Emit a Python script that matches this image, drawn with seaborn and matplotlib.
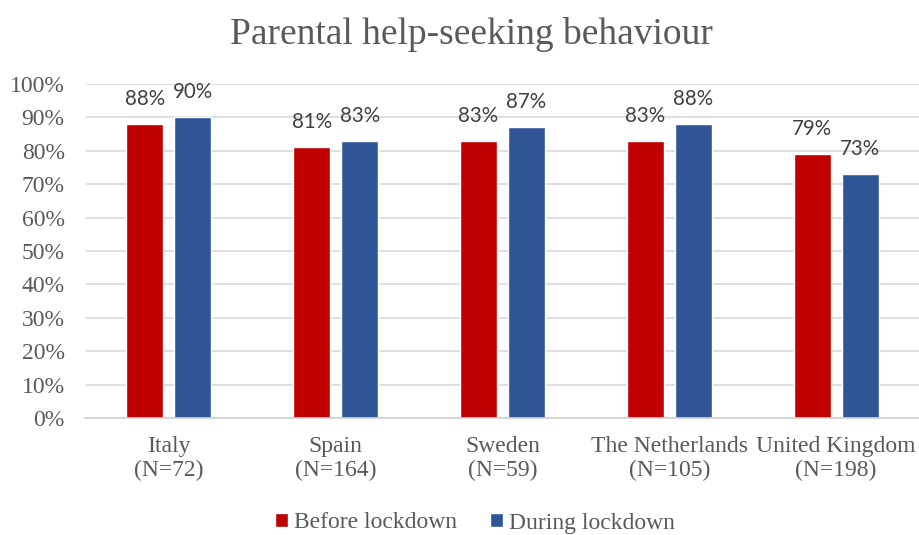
import pandas as pd
import seaborn as sns
import matplotlib.pyplot as plt
from matplotlib.patches import Patch

countries = ['Italy\n(N=72)', 'Spain\n(N=164)', 'Sweden\n(N=59)',
             'The Netherlands\n(N=105)', 'United Kingdom\n(N=198)']
before = [0.88, 0.81, 0.83, 0.83, 0.79]
during = [0.90, 0.83, 0.87, 0.88, 0.73]
periods = ['Before lockdown', 'During lockdown']
colors = ['#C00000', '#2F5597']

df = pd.DataFrame({
    'country': countries * 2,
    'period': [periods[0]] * len(countries) + [periods[1]] * len(countries),
    'share': before + during,
})

text_col = '#595959'
serif = 'Liberation Serif'

sns.set_style('white')
fig = plt.figure(figsize=(9.2, 5.35), dpi=100)
ax = fig.add_axes([85.5 / 920, 1 - 418 / 535, 834 / 920, 334 / 535])

sns.barplot(data=df, x='country', y='share', hue='period', hue_order=periods,
            palette=colors, width=0.575, gap=0.23, saturation=1,
            legend=False, ax=ax)

# percentage labels above every bar
for cont in ax.containers:
    vals = [b.get_height() for b in cont]
    ax.bar_label(cont, labels=[f'{v:.0%}' for v in vals], padding=11,
                 fontsize=14.8, color='#404040', family='Lato')

ax.set_ylim(0, 1.0)
ax.set_yticks([i / 10 for i in range(11)])
ax.set_yticklabels([f'{i * 10}%' for i in range(11)])
ax.yaxis.grid(True, color='#D9D9D9', linewidth=1.2)
ax.set_axisbelow(True)
for s in ['top', 'right', 'left']:
    ax.spines[s].set_visible(False)
ax.spines['bottom'].set_color('#D0D0D0')
ax.spines['bottom'].set_linewidth(1.2)
ax.tick_params(axis='both', length=0, labelsize=17, labelcolor=text_col)
ax.tick_params(axis='x', pad=13)
ax.tick_params(axis='y', pad=15)
for lab in ax.get_xticklabels() + ax.get_yticklabels():
    lab.set_family(serif)
ax.set_xlabel('')
ax.set_ylabel('')

fig.text(471 / 920, 1 - 34 / 535, 'Parental help-seeking behaviour', ha='center', va='center',
         fontsize=27, color=text_col, family=serif)

handles = [Patch(facecolor=c, label=p) for c, p in zip(colors, periods)]
fig.legend(handles=handles, loc='center', bbox_to_anchor=(0.516, 1 - 523 / 535), ncol=2,
           frameon=False, handlelength=0.55, handleheight=0.55, handletextpad=0.25,
           columnspacing=1.4, prop={'family': serif, 'size': 17}, labelcolor=text_col)

fig.savefig('out.png', dpi=100)
